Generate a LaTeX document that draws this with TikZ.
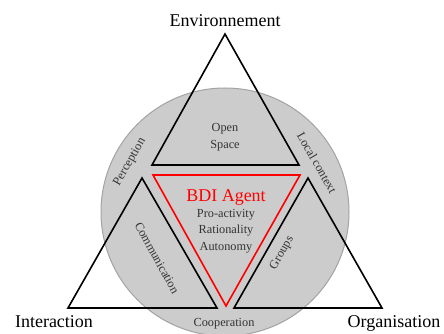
\documentclass[tikz,border=0pt]{standalone}
\usepackage{fontspec}
\setmainfont{Liberation Serif}
\usetikzlibrary{positioning}
\definecolor{discgray}{HTML}{CCCCCC}
\definecolor{rimgray}{HTML}{A3A3A3}
\definecolor{labelgray}{HTML}{333333}

\begin{document}
\begin{tikzpicture}[
    x = 1pt, y = -1pt,
    big/.style={font=\fontsize{18}{20}\selectfont, inner sep=0pt},
    small/.style={font=\fontsize{12.3}{16.5}\selectfont, text=labelgray, inner sep=0pt, align=center},
    tri/.style={draw=black, line width=1.6pt, line join=miter},
    agent/.style={draw=red, line width=1.6pt, line join=miter}
]
    \useasboundingbox (0,0) rectangle (444,334);

    % shared disc
    \filldraw[fill=discgray, draw=rimgray, line width=1pt] (225,212) circle [radius=124pt];

    % corners of the three poles
    \coordinate (envtop) at (225,34);
    \coordinate (envleft) at (152,165);
    \coordinate (envright) at (299,165);
    \coordinate (inttop) at (142,178);
    \coordinate (intleft) at (68,308);
    \coordinate (intright) at (217,308);
    \coordinate (orgtop) at (308,178);
    \coordinate (orgleft) at (234,308);
    \coordinate (orgright) at (382,308);
    \coordinate (bdileft) at (153,175);
    \coordinate (bdiright) at (300,175);
    \coordinate (bdibottom) at (226,306);

    \draw[tri] (envtop) -- (envleft) -- (envright) -- cycle;
    \draw[tri] (inttop) -- (intleft) -- (intright) -- cycle;
    \draw[tri] (orgtop) -- (orgleft) -- (orgright) -- cycle;
    \draw[agent] (bdileft) -- (bdiright) -- (bdibottom) -- cycle;

    % pole names
    \node[big, anchor=base] (env) at (225,27) {Environnement};
    \node[big, anchor=base] (inter) at (54,327) {Interaction};
    \node[big, anchor=base] (orga) at (394,327) {Organisation};

    % agent
    \node[big, text=red, anchor=base] (bdi) at (226,201) {BDI Agent};
    \node[small] (traits) at (226,231) {Pro-activity\\Rationality\\Autonomy};

    % overlaps
    \node[small] (space) at (225,137) {Open\\Space};
    \node[small, rotate=60] (percep) at (130,162) {Perception};
    \node[small, rotate=-60] (local) at (317,163) {Local context};
    \node[small, rotate=-61] (comm) at (157,258) {Communication};
    \node[small, rotate=60] (groups) at (282,253) {Groups};
    \node[small, anchor=base] (coop) at (224,326) {Cooperation};
\end{tikzpicture}
\end{document}
